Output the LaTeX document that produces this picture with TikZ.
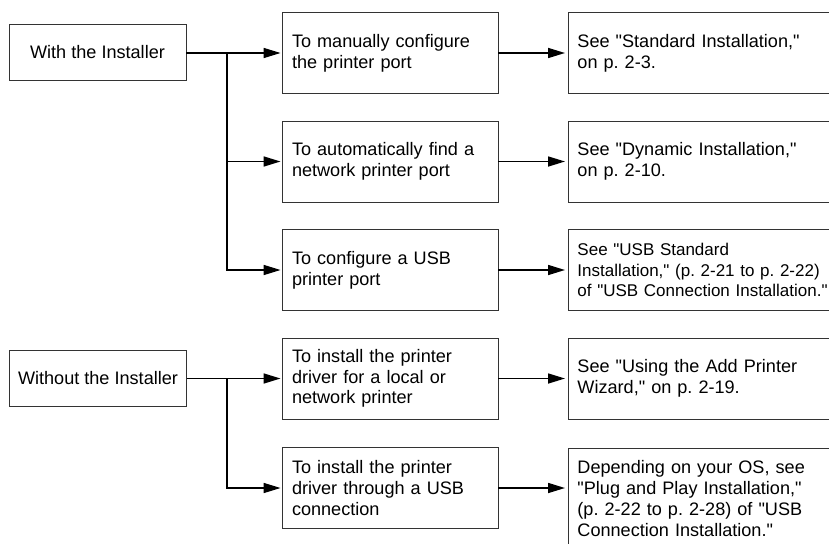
\documentclass[tikz,border=0pt]{standalone}
\usepackage{fontspec}
\setmainfont{Liberation Sans}[Ligatures=TeXOff]
\usetikzlibrary{arrows.meta}
\frenchspacing
\begin{document}
\begin{tikzpicture}[x=1pt,y=-1pt,
  boxbase/.style={draw=black!80, line width=0.9pt, text=black,
    font=\frenchspacing\fontsize{18.1}{20.8}\selectfont},
  srcbox/.style={boxbase, minimum width=177pt, minimum height=56pt,
    inner sep=0pt, align=center},
  midbox/.style={boxbase, inner xsep=10pt, inner ysep=0pt,
    minimum height=81pt, text width=196pt, align=left},
  refbox/.style={boxbase, inner xsep=9pt, inner ysep=0pt,
    minimum height=81pt, text width=290pt, align=left, anchor=west},
  conn/.style={line width=1.6pt, -{Triangle[length=17pt,width=10pt]}}]
\useasboundingbox (0,0) rectangle (829,543);
\clip (0,0) rectangle (829,543);

% source boxes
\node[srcbox] (L1) at (97.5,52) {With the Installer};
\node[srcbox] (L2) at (98,378.5) {Without the Installer};

% middle boxes
\node[midbox] (M1) at (390,53) {To manually configure\\the printer port};
\node[midbox] (M2) at (390,161.5) {To automatically find a\\network printer port};
\node[midbox] (M3) at (390,270) {To configure a USB\\printer port};
\node[midbox] (M4) at (390,378.5) {To install the printer\\driver for a local or\\network printer};
\node[midbox] (M5) at (390,488) {To install the printer\\driver through a USB\\connection};

% reference boxes
\node[refbox] (R1) at (568,53) {See "Standard Installation,"\\on p. 2-3.};
\node[refbox] (R2) at (568,161.5) {See "Dynamic Installation,"\\on p. 2-10.};
\node[refbox, font=\frenchspacing\fontsize{17}{20.8}\selectfont] (R3) at (568,270) {See "USB Standard\\Installation," (p. 2-21 to p. 2-22)\\of "USB Connection Installation."};
\node[refbox] (R4) at (568,378.5) {See "Using the Add Printer\\Wizard," on p. 2-19.};
\node[refbox, anchor=north west, minimum height=100pt] (R5) at (568,448) {Depending on your OS, see\\"Plug and Play Installation,"\\(p. 2-22 to p. 2-28) of "USB\\Connection Installation."};

% branch points
\coordinate (t1) at (227,53);
\coordinate (t2) at (227,378.5);

% connectors from source boxes
\draw[conn, shorten >=1pt] (L1.east |- M1.west) -- (M1.west);
\draw[conn, shorten >=1pt] (t1) |- (M2.west);
\draw[conn, shorten >=1pt] (t1) |- (M3.west);
\draw[conn, shorten >=1pt] (L2.east |- M4.west) -- (M4.west);
\draw[conn, shorten >=1pt] (t2) |- (M5.west);

% connectors to reference boxes
\draw[conn, shorten >=3pt] (M1.east) -- (R1.west);
\draw[conn, shorten >=3pt] (M2.east) -- (R2.west);
\draw[conn, shorten >=3pt] (M3.east) -- (R3.west);
\draw[conn, shorten >=3pt] (M4.east) -- (R4.west);
\draw[conn, shorten >=3pt] (M5.east) -- (M5.east -| R5.west);
\end{tikzpicture}
\end{document}
